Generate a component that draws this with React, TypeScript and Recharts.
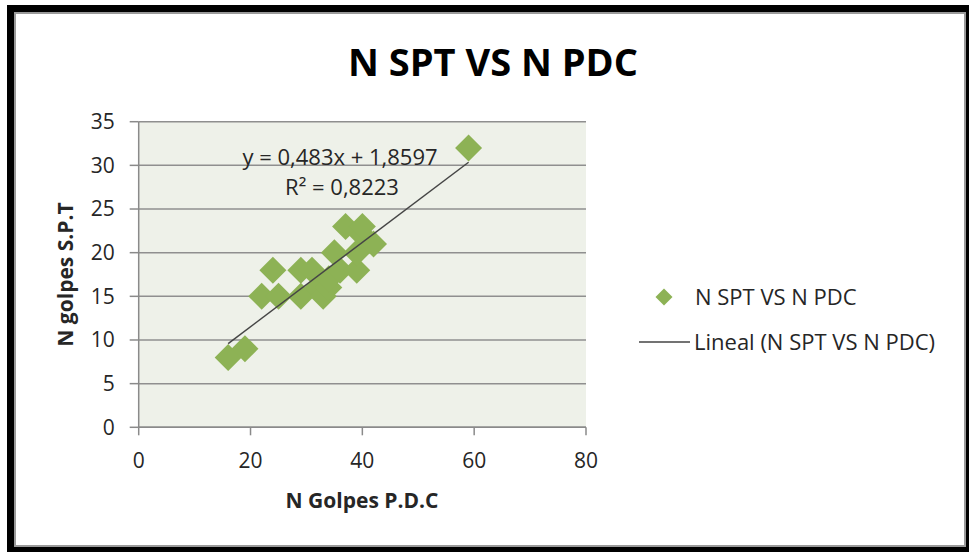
import { CartesianGrid, Scatter, ScatterChart, XAxis, YAxis } from "recharts";

// N golpes P.D.C (x) vs N golpes S.P.T (y)
const pdcBlows = [16, 19, 22, 24, 25, 29, 29, 31, 32, 33, 34, 34, 35, 36, 37, 39, 39, 40, 40, 42, 59];
const sptBlows = [8, 9, 15, 18, 15, 18, 15, 18, 16, 15, 16, 17, 20, 18, 23, 18, 20, 22, 23, 21, 32];

const xTicks = [0, 20, 40, 60, 80];
const yTicks = [0, 5, 10, 15, 20, 25, 30, 35];

// linear trend reported by the spreadsheet
const slope = 0.483;
const intercept = 1.8597;
const rSquared = 0.8223;

const seriesName = "N SPT VS N PDC";
const font = "'Open Sans', sans-serif";
const green = "#8DB255";

const points = pdcBlows.map((x, i) => ({ x, y: sptBlows[i] }));
const trend = [Math.min(...pdcBlows), Math.max(...pdcBlows)].map((x) => ({
  x,
  y: slope * x + intercept,
}));

const fmt = (n: number) => String(n).replace(".", ",");

function Diamond(props: any) {
  const { cx, cy } = props;
  const r = 13.5;
  return (
    <polygon
      points={`${cx},${cy - r} ${cx + r},${cy} ${cx},${cy + r} ${cx - r},${cy}`}
      fill={green}
    />
  );
}

export default function App() {
  return (
    <div
      style={{
        position: "fixed",
        left: 0,
        top: 0,
        width: 969,
        height: 552,
        overflow: "hidden",
        background: "#fff",
      }}
    >
      <div
        style={{
          position: "absolute",
          left: 7,
          top: 5,
          width: 980,
          height: 560,
          background: "#000",
        }}
      />
      <div
        style={{
          position: "absolute",
          left: 14,
          top: 12,
          width: 948,
          height: 531,
          background: "#fff",
          border: "2px solid #9a9a9a",
        }}
      />
      <ScatterChart
        width={969}
        height={552}
        margin={{ top: 121.7, right: 383, bottom: 64.7, left: 60 }}
        style={{ position: "absolute", left: 0, top: 0 }}
      >
        <CartesianGrid
          vertical={false}
          fill="#EEF1E9"
          stroke="#8f8f8f"
          strokeWidth={1.5}
        />
        <XAxis
          type="number"
          dataKey="x"
          domain={[0, 80]}
          ticks={xTicks}
          height={60}
          tickSize={8}
          tickMargin={18}
          axisLine={{ stroke: "#8a8a8a", strokeWidth: 1.5 }}
          tickLine={{ stroke: "#8a8a8a", strokeWidth: 1.5 }}
          tick={{ fill: "#262626", fontSize: 21, fontFamily: font }}
        />
        <YAxis
          type="number"
          dataKey="y"
          domain={[0, 35]}
          ticks={yTicks}
          width={78.7}
          tickSize={9}
          tickMargin={15}
          axisLine={{ stroke: "#8a8a8a", strokeWidth: 1.5 }}
          tickLine={{ stroke: "#8a8a8a", strokeWidth: 1.5 }}
          tick={{ fill: "#262626", fontSize: 21, fontFamily: font }}
        />
        <Scatter
          name={seriesName}
          data={points}
          shape={Diamond}
          isAnimationActive={false}
        />
        <Scatter
          name={`Lineal (${seriesName})`}
          data={trend}
          line={{ stroke: "#454545", strokeWidth: 1.5 }}
          shape={() => <g />}
          legendType="none"
          isAnimationActive={false}
        />
      </ScatterChart>
      <svg
        width={969}
        height={552}
        style={{ position: "absolute", left: 0, top: 0, pointerEvents: "none" }}
        fontFamily={font}
      >
        <text x={493} y={76} textAnchor="middle" fontSize={38} fontWeight={700} fill="#000">
          {seriesName}
        </text>
        <text x={340} y={165} textAnchor="middle" fontSize={22} fill="#262626">
          {`y = ${fmt(slope)}x + ${fmt(intercept)}`}
        </text>
        <text x={342} y={195} textAnchor="middle" fontSize={22} fill="#262626">
          {`R² = ${fmt(rSquared)}`}
        </text>
        <text x={362} y={507.5} textAnchor="middle" fontSize={21} fontWeight={700} fill="#262626">
          N Golpes P.D.C
        </text>
        <text
          x={72.5}
          y={274.5}
          textAnchor="middle"
          fontSize={21}
          fontWeight={700}
          fill="#262626"
          transform="rotate(-90, 72.5, 274.5)"
        >
          N golpes S.P.T
        </text>
        <polygon points="664,288.5 672.5,297 664,305.5 655.5,297" fill={green} />
        <text x={695} y={305} fontSize={22} fill="#262626">
          {seriesName}
        </text>
        <line x1={639} y1={342} x2={690} y2={342} stroke="#454545" strokeWidth={1.5} />
        <text x={694} y={349.5} fontSize={22} fill="#262626">
          {`Lineal (${seriesName})`}
        </text>
      </svg>
    </div>
  );
}
